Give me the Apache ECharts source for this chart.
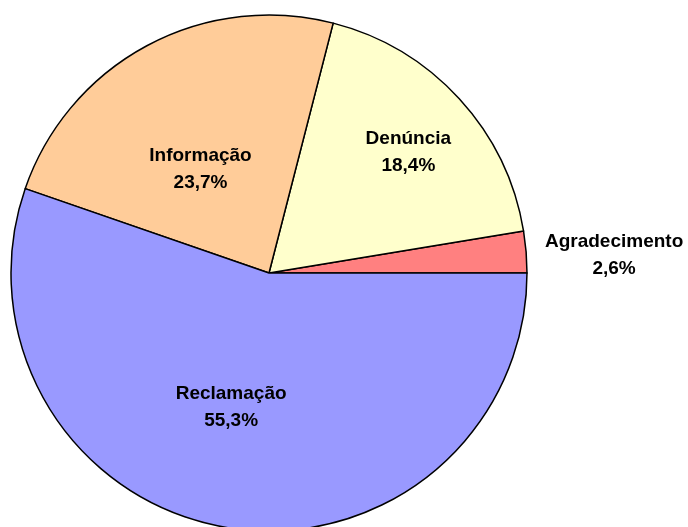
<!DOCTYPE html>
<html>
<head>
<meta charset="utf-8">
<script src="https://cdn.jsdelivr.net/npm/echarts@6/dist/echarts.min.js"></script>
<style>
  html, body { margin: 0; padding: 0; background: #fff; }
  #chart { width: 688px; height: 527px; }
</style>
</head>
<body>
<div id="chart"></div>
<script>
// slices go counterclockwise from 3 o'clock
const categories = ['Agradecimento', 'Denúncia', 'Informação', 'Reclamação'];
const shares = [2.6, 18.4, 23.7, 55.3];
const colors = ['#FF8080', '#FFFFCC', '#FFCC99', '#9999FF'];

const chart = echarts.init(document.getElementById('chart'));

chart.setOption({
    animation: false,
    series: [{
        type: 'pie',
        center: [269, 273],
        radius: 258,
        startAngle: 0,
        clockwise: false,
        avoidLabelOverlap: false,
        silent: true,
        itemStyle: {
            borderColor: '#000',
            borderWidth: 1.5
        },
        label: {
            position: 'inside',
            color: '#000',
            fontFamily: 'Arial, "Liberation Sans", sans-serif',
            fontWeight: 'bold',
            fontSize: 19,
            lineHeight: 27,
            formatter: (p) => p.name + '\n' + p.value.toFixed(1).replace('.', ',') + '%'
        },
        labelLine: { show: false, length: 10, length2: 8 },
        // nudge labels to where the original put them
        labelLayout: (p) => {
            if (p.dataIndex === 0) return { align: 'center', dx: 65, dy: 4 };
            if (p.dataIndex === 1) return { dx: 42, dy: -32 };
            if (p.dataIndex === 2) return { dx: -6, dy: 13 };
            if (p.dataIndex === 3) return { dx: -16, dy: 4 };
            return {};
        },
        data: categories.map((name, i) => ({
            name: name,
            value: shares[i],
            itemStyle: { color: colors[i] },
            label: i === 0 ? { position: 'outside' } : undefined
        }))
    }]
});
</script>
</body>
</html>
